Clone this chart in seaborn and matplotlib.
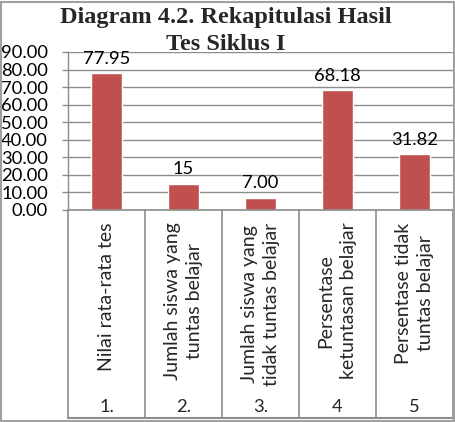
import matplotlib
matplotlib.use("Agg")
import matplotlib.pyplot as plt
import seaborn as sns
import pandas as pd
from matplotlib.patches import Rectangle

categories = ["Nilai rata-rata tes",
              "Jumlah siswa yang\ntuntas belajar",
              "Jumlah siswa yang\ntidak tuntas belajar",
              "Persentase\nketuntasan belajar",
              "Persentase tidak\ntuntas belajar"]
numbers = ["1.", "2.", "3.", "4", "5"]
values = [77.95, 15, 7.00, 68.18, 31.82]
value_labels = ["77.95", "15", "7.00", "68.18", "31.82"]
yticks = [0, 10, 20, 30, 40, 50, 60, 70, 80, 90]
title_lines = ["Diagram 4.2. Rekapitulasi Hasil", "Tes Siklus I"]

sns.set_style("white")
plt.rcParams["font.family"] = ["Lato", "DejaVu Sans"]

W, H = 456, 422
fig = plt.figure(figsize=(W / 100, H / 100), dpi=100)
grid_c = "#8c8c8c"
num_fs = 13.2

x0, x1 = 68, 453
y_top, y_zero, y_bot = 52, 210, 418
ax = fig.add_axes([x0 / W, (H - y_zero) / H, (x1 - x0) / W, (y_zero - y_top) / H])

df = pd.DataFrame({"cat": categories, "val": values})
sns.barplot(data=df, x="cat", y="val", color="#C0504D", width=0.4,
            saturation=1, ax=ax, zorder=3)
ax.set_xlim(-0.5, 4.5)
ax.set_ylim(0, 90)
ax.set_yticks(yticks)
ax.set_yticklabels([f"{v:.2f}" for v in yticks], fontsize=num_fs, color="black")
ax.set_xticks([])
ax.set_xlabel("")
ax.set_ylabel("")
for s in ["top", "right", "bottom"]:
    ax.spines[s].set_visible(False)
ax.spines["left"].set_color(grid_c)
ax.spines["left"].set_linewidth(1)
ax.tick_params(axis="y", length=4.3, width=1, color=grid_c, pad=10, left=True)
ax.yaxis.grid(True, color=grid_c, linewidth=1, zorder=0)
ax.set_axisbelow(True)

for i, (v, lab) in enumerate(zip(values, value_labels)):
    ax.annotate(lab, (i, v), xytext=(0, 10.5), textcoords="offset points",
                ha="center", va="center", fontsize=num_fs, color="black",
                annotation_clip=False, zorder=5)

# category label area
ax2 = fig.add_axes([x0 / W, (H - y_bot) / H, (x1 - x0) / W, (y_bot - y_zero) / H])
ax2.set_xlim(-0.5, 4.5)
ax2.set_ylim(0, 1)
ax2.axis("off")
for b in [-0.5, 0.5, 1.5, 2.5, 3.5, 4.5]:
    ax2.axvline(b, color=grid_c, linewidth=1.2, clip_on=False)
ax2.axhline(1, color=grid_c, linewidth=1.2, clip_on=False)
ax2.axhline(0, color=grid_c, linewidth=1.5, clip_on=False)
for i, (c, n) in enumerate(zip(categories, numbers)):
    ax2.text(i, 0.94, c, rotation=90, ha="center", va="top", fontsize=14,
             multialignment="center", linespacing=1.4)
    ax2.text(i, 0.055, n, ha="center", va="center", fontsize=num_fs)

for k, line in enumerate(title_lines):
    fig.text(226 / W, 1 - (18 + 27 * k) / H, line, ha="center", va="center",
             fontsize=17.5, fontweight="bold",
             family=["Liberation Serif", "DejaVu Serif"])

fig.patches.append(Rectangle((1 / W, 1 / H), (W - 3) / W, (H - 3) / H,
                             transform=fig.transFigure, fill=False,
                             edgecolor="#a0a0a0", linewidth=1.5))

fig.savefig("out.png", dpi=100)
